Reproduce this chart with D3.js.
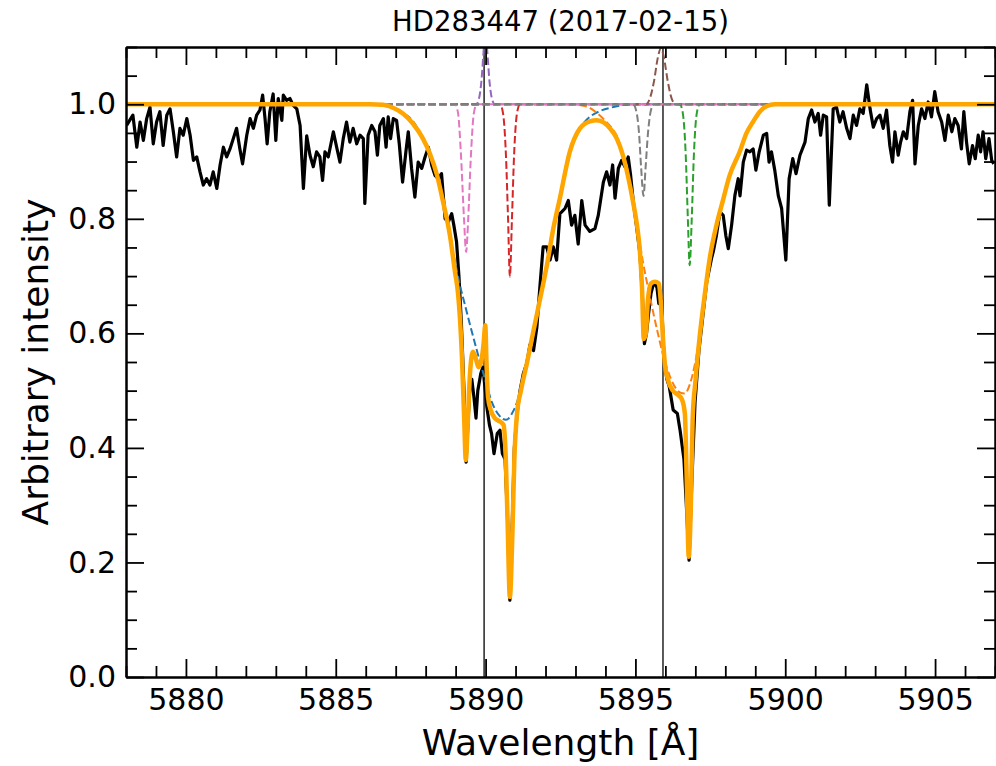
<!DOCTYPE html>
<html>
<head>
<meta charset="utf-8">
<script src="https://cdn.jsdelivr.net/npm/d3@7"></script>
<style>
  html, body { margin: 0; padding: 0; background: #ffffff; }
  svg text { font-family: "DejaVu Sans", sans-serif; fill: #000; }
</style>
</head>
<body>
<svg id="chart" width="996" height="766"></svg>
<script>
// ---- Axis limits and ticks ----
const xDomain = [5878, 5907];
const yDomain = [0, 1.1];
const xTicks = [5880, 5885, 5890, 5895, 5900, 5905];
const yTicks = [0.0, 0.2, 0.4, 0.6, 0.8, 1.0];
const restLines = [5889.95, 5895.92];   // Na I D2, D1

// ---- Observed spectrum (normalised) ----
const obsWave = [5878.02,5878.23,5878.36,5878.47,5878.58,5878.69,5878.80,5878.91,5879.02,5879.13,5879.24,5879.36,5879.47,5879.58,5879.69,5879.80,5879.91,5880.03,5880.14,5880.25,5880.36,5880.47,5880.58,5880.69,5880.80,5880.91,5881.03,5881.14,5881.25,5881.36,5881.47,5881.58,5881.69,5881.80,5881.89,5882.03,5882.14,5882.25,5882.36,5882.47,5882.56,5882.64,5882.71,5882.80,5882.91,5883.00,5883.08,5883.20,5883.25,5883.36,5883.47,5883.58,5883.70,5883.81,5883.92,5884.03,5884.14,5884.25,5884.36,5884.47,5884.56,5884.64,5884.75,5884.92,5885.03,5885.14,5885.25,5885.36,5885.47,5885.58,5885.70,5885.81,5885.92,5885.97,5886.08,5886.20,5886.31,5886.39,5886.47,5886.59,5886.68,5886.75,5886.83,5886.92,5887.03,5887.12,5887.23,5887.34,5887.42,5887.53,5887.64,5887.75,5887.87,5887.98,5888.09,5888.20,5888.31,5888.42,5888.53,5888.65,5888.76,5888.87,5888.94,5889.03,5889.11,5889.19,5889.28,5889.35,5889.41,5889.48,5889.54,5889.61,5889.68,5889.74,5889.84,5889.91,5889.99,5890.04,5890.13,5890.20,5890.28,5890.39,5890.48,5890.56,5890.65,5890.73,5890.81,5890.88,5890.96,5891.05,5891.15,5891.26,5891.38,5891.48,5891.60,5891.71,5891.81,5891.92,5892.04,5892.15,5892.26,5892.37,5892.48,5892.54,5892.65,5892.76,5892.87,5892.98,5893.09,5893.21,5893.32,5893.48,5893.65,5893.76,5893.93,5894.04,5894.15,5894.24,5894.32,5894.43,5894.54,5894.65,5894.76,5894.84,5894.93,5895.03,5895.15,5895.23,5895.30,5895.37,5895.43,5895.52,5895.62,5895.72,5895.78,5895.87,5895.95,5896.05,5896.13,5896.26,5896.40,5896.49,5896.62,5896.70,5896.79,5896.89,5896.99,5897.12,5897.25,5897.38,5897.54,5897.60,5897.70,5897.82,5897.93,5898.02,5898.10,5898.21,5898.32,5898.43,5898.49,5898.60,5898.71,5898.82,5898.93,5899.02,5899.13,5899.27,5899.38,5899.46,5899.54,5899.65,5899.77,5899.88,5900.02,5900.13,5900.25,5900.36,5900.49,5900.66,5900.77,5900.88,5900.99,5901.10,5901.18,5901.27,5901.38,5901.47,5901.60,5901.71,5901.82,5901.93,5902.05,5902.16,5902.27,5902.38,5902.49,5902.60,5902.72,5902.83,5902.94,5903.05,5903.16,5903.27,5903.38,5903.49,5903.58,5903.66,5903.77,5903.85,5903.94,5904.05,5904.16,5904.25,5904.33,5904.44,5904.55,5904.66,5904.77,5904.88,5904.99,5905.10,5905.22,5905.33,5905.44,5905.56,5905.66,5905.77,5905.88,5905.96,5906.05,5906.14,5906.25,5906.34,5906.44,5906.52,5906.60,5906.69,5906.80,5906.89,5906.96];
const obsFlux = [0.963,0.981,0.925,0.969,0.937,0.975,0.995,0.931,0.969,0.987,0.928,0.981,0.992,0.952,0.908,0.958,0.946,0.975,0.946,0.902,0.908,0.882,0.859,0.870,0.859,0.882,0.853,0.894,0.925,0.908,0.922,0.940,0.958,0.922,0.896,0.946,0.975,0.958,0.981,0.990,1.016,0.975,0.931,0.987,1.018,0.937,1.010,0.972,1.016,1.007,1.010,0.998,0.992,0.963,0.853,0.945,0.911,0.891,0.917,0.908,0.867,0.917,0.908,0.952,0.925,0.899,0.940,0.969,0.934,0.958,0.931,0.946,0.940,0.827,0.946,0.963,0.952,0.911,0.963,0.975,0.925,0.978,0.940,0.975,0.972,0.931,0.864,0.917,0.952,0.888,0.838,0.899,0.888,0.908,0.925,0.894,0.876,0.870,0.879,0.800,0.795,0.809,0.789,0.760,0.700,0.620,0.500,0.375,0.440,0.510,0.520,0.489,0.452,0.500,0.530,0.541,0.500,0.472,0.440,0.425,0.390,0.425,0.431,0.390,0.380,0.280,0.134,0.250,0.400,0.460,0.500,0.530,0.548,0.580,0.570,0.610,0.680,0.751,0.751,0.728,0.751,0.728,0.809,0.812,0.818,0.832,0.789,0.806,0.756,0.832,0.789,0.778,0.783,0.806,0.864,0.882,0.859,0.894,0.836,0.888,0.902,0.891,0.908,0.876,0.830,0.790,0.740,0.670,0.582,0.600,0.630,0.670,0.690,0.680,0.652,0.660,0.560,0.520,0.507,0.466,0.460,0.431,0.380,0.300,0.204,0.350,0.480,0.570,0.630,0.690,0.731,0.743,0.770,0.812,0.806,0.770,0.748,0.789,0.841,0.870,0.840,0.899,0.920,0.917,0.922,0.885,0.917,0.946,0.949,0.899,0.917,0.885,0.840,0.818,0.728,0.870,0.905,0.879,0.911,0.934,0.975,0.990,0.969,0.984,0.946,0.981,0.978,0.824,0.992,0.995,0.969,0.987,0.958,0.940,0.981,0.963,0.992,0.984,1.034,0.992,0.960,0.975,0.981,0.958,0.990,0.928,0.899,0.952,0.911,0.934,0.952,0.940,0.987,1.007,0.896,0.963,0.992,0.975,1.004,0.978,1.022,0.987,0.969,0.937,0.981,0.952,0.975,0.963,0.922,0.987,0.934,0.896,0.928,0.905,0.946,0.917,0.952,0.905,0.940,0.902,0.896];

// ---- Total model fit ----
const fitWave = [5878.00,5886.14,5886.58,5886.91,5887.24,5887.58,5887.91,5888.14,5888.38,5888.58,5888.81,5888.98,5889.08,5889.14,5889.21,5889.28,5889.34,5889.41,5889.48,5889.58,5889.68,5889.76,5889.85,5889.93,5889.99,5890.03,5890.08,5890.18,5890.28,5890.41,5890.51,5890.60,5890.66,5890.73,5890.81,5890.90,5890.96,5891.05,5891.18,5891.38,5891.58,5891.81,5892.05,5892.25,5892.48,5892.81,5893.15,5893.48,5893.71,5893.95,5894.15,5894.38,5894.58,5894.75,5894.92,5895.05,5895.15,5895.22,5895.28,5895.35,5895.42,5895.52,5895.65,5895.78,5895.84,5895.91,5895.98,5896.08,5896.25,5896.41,5896.55,5896.65,5896.71,5896.78,5896.85,5896.91,5897.01,5897.15,5897.32,5897.48,5897.71,5897.91,5898.14,5898.48,5898.71,5898.92,5899.15,5899.39,5899.65,5907.00];
const fitFlux = [1.000,1.000,0.999,0.994,0.984,0.966,0.940,0.914,0.876,0.830,0.771,0.707,0.670,0.630,0.560,0.460,0.379,0.450,0.530,0.568,0.555,0.541,0.550,0.580,0.614,0.550,0.489,0.465,0.454,0.448,0.445,0.440,0.400,0.280,0.140,0.260,0.380,0.460,0.500,0.548,0.600,0.658,0.720,0.780,0.836,0.917,0.958,0.970,0.972,0.968,0.958,0.940,0.911,0.875,0.830,0.790,0.743,0.680,0.590,0.600,0.660,0.687,0.690,0.687,0.660,0.600,0.548,0.520,0.500,0.493,0.485,0.460,0.350,0.210,0.300,0.450,0.520,0.597,0.670,0.731,0.790,0.830,0.875,0.917,0.950,0.969,0.987,0.997,1.000,1.000];

// ---- Individual fit components ----
// broad D2 absorption
const compAWave = [5878.00,5885.81,5886.64,5887.14,5887.58,5887.91,5888.14,5888.38,5888.58,5888.81,5888.98,5889.14,5889.31,5889.48,5889.71,5889.98,5890.21,5890.48,5890.68,5890.88,5891.08,5891.31,5891.58,5891.81,5892.05,5892.25,5892.48,5892.81,5893.15,5893.48,5893.81,5894.25,5894.65,5895.15,5907.00];
const compAFlux = [1.000,1.000,0.997,0.988,0.970,0.940,0.914,0.876,0.830,0.770,0.725,0.685,0.650,0.615,0.570,0.520,0.480,0.455,0.449,0.460,0.485,0.540,0.600,0.660,0.720,0.780,0.836,0.917,0.958,0.978,0.988,0.995,0.999,1.000,1.000];
// broad D1 absorption
const compBWave = [5878.00,5892.81,5893.32,5893.71,5893.98,5894.22,5894.42,5894.58,5894.75,5894.92,5895.08,5895.25,5895.42,5895.58,5895.75,5895.91,5896.08,5896.28,5896.48,5896.65,5896.81,5896.98,5897.15,5897.32,5897.48,5897.71,5897.91,5898.14,5898.48,5898.71,5898.92,5899.15,5899.39,5899.75,5907.00];
const compBFlux = [1.000,1.000,0.997,0.985,0.972,0.958,0.940,0.912,0.876,0.832,0.780,0.725,0.680,0.640,0.600,0.565,0.535,0.510,0.497,0.495,0.510,0.545,0.597,0.670,0.731,0.790,0.830,0.875,0.917,0.950,0.969,0.987,0.997,1.000,1.000];
// narrow D1 absorption (red side)
const compCWave = [5878.00,5896.48,5896.58,5896.68,5896.75,5896.81,5896.88,5896.95,5897.05,5897.15,5907.00];
const compCFlux = [1.000,1.000,0.985,0.910,0.800,0.719,0.800,0.910,0.985,1.000,1.000];
// narrow D2 absorption (red side)
const compDWave = [5878.00,5890.48,5890.58,5890.68,5890.75,5890.81,5890.88,5890.95,5891.05,5891.15,5907.00];
const compDFlux = [1.000,1.000,0.985,0.910,0.800,0.699,0.800,0.910,0.985,1.000,1.000];
// D2 emission
const compEWave = [5878.00,5889.68,5889.78,5889.86,5889.93,5889.99,5890.06,5890.13,5890.21,5890.31,5907.00];
const compEFlux = [1.000,1.000,1.010,1.040,1.090,1.130,1.090,1.040,1.010,1.000,1.000];
// D1 emission
const compFWave = [5878.00,5895.35,5895.48,5895.62,5895.75,5895.85,5895.95,5896.08,5896.21,5896.35,5907.00];
const compFFlux = [1.000,1.000,1.010,1.040,1.082,1.098,1.082,1.040,1.010,1.000,1.000];
// narrow D2 absorption (blue side)
const compGWave = [5878.00,5888.98,5889.08,5889.18,5889.28,5889.35,5889.42,5889.51,5889.61,5889.71,5907.00];
const compGFlux = [1.000,1.000,0.985,0.910,0.800,0.742,0.800,0.910,0.985,1.000,1.000];
// narrow D1 absorption (blue side)
const compHWave = [5878.00,5894.92,5895.02,5895.12,5895.19,5895.27,5895.34,5895.42,5895.52,5895.62,5907.00];
const compHFlux = [1.000,1.000,0.990,0.950,0.890,0.840,0.890,0.950,0.990,1.000,1.000];

const components = [
  {wave: compAWave, flux: compAFlux, color: "#1f77b4"},
  {wave: compBWave, flux: compBFlux, color: "#ff7f0e"},
  {wave: compCWave, flux: compCFlux, color: "#2ca02c"},
  {wave: compDWave, flux: compDFlux, color: "#d62728"},
  {wave: compEWave, flux: compEFlux, color: "#9467bd"},
  {wave: compFWave, flux: compFFlux, color: "#8c564b"},
  {wave: compGWave, flux: compGFlux, color: "#e377c2"},
  {wave: compHWave, flux: compHFlux, color: "#7f7f7f"}
];

// ---- Layout ----
const plot = {left: 126, right: 995, top: 47, bottom: 677};
const svg = d3.select("#chart");

const x = d3.scaleLinear().domain(xDomain).range([plot.left, plot.right]);
const y = d3.scaleLinear().domain(yDomain).range([plot.bottom, plot.top]);

svg.append("defs").append("clipPath").attr("id", "plotClip")
  .append("rect")
  .attr("x", plot.left).attr("y", plot.top)
  .attr("width", plot.right - plot.left).attr("height", plot.bottom - plot.top);

const layer = svg.append("g").attr("clip-path", "url(#plotClip)");

const zip = (w, f) => w.map((d, i) => [d, f[i]]);

// rest wavelengths
layer.selectAll("line.rest").data(restLines).enter().append("line")
  .attr("class", "rest")
  .attr("x1", d => x(d)).attr("x2", d => x(d))
  .attr("y1", plot.top).attr("y2", plot.bottom)
  .attr("stroke", "#000").attr("stroke-width", 1.3);

// observed spectrum
const obsLine = d3.line().x(d => x(d[0])).y(d => y(d[1]));
layer.append("path")
  .datum(zip(obsWave, obsFlux))
  .attr("d", obsLine)
  .attr("fill", "none").attr("stroke", "#000")
  .attr("stroke-width", 3.2).attr("stroke-linejoin", "round");

// components (dashed)
const smoothLine = d3.line().x(d => x(d[0])).y(d => y(d[1])).curve(d3.curveMonotoneX);
components.forEach(c => {
  layer.append("path")
    .datum(zip(c.wave, c.flux))
    .attr("d", smoothLine)
    .attr("fill", "none").attr("stroke", c.color)
    .attr("stroke-width", 2)
    .attr("stroke-dasharray", "7.5,3.3");
});

// total fit
layer.append("path")
  .datum(zip(fitWave, fitFlux))
  .attr("d", smoothLine)
  .attr("fill", "none").attr("stroke", "#ffa500")
  .attr("stroke-width", 4.5).attr("stroke-linejoin", "round");

// ---- Axes ----
const xMinor = d3.range(xDomain[0], xDomain[1] + 0.001, 1).filter(v => !xTicks.includes(v));
const yMinor = d3.range(0, yDomain[1] + 0.001, 0.05).map(v => +v.toFixed(2))
  .filter(v => !yTicks.some(t => Math.abs(t - v) < 1e-6));

const MAJ = 18, MIN = 11;

function styleAxis(g, fontSize) {
  g.attr("font-family", "DejaVu Sans, sans-serif").attr("font-size", fontSize);
  g.select(".domain").attr("stroke", "#000").attr("stroke-width", 2);
  g.selectAll(".tick line").attr("stroke", "#000").attr("stroke-width", 1.8);
  g.selectAll(".tick text").attr("fill", "#000");
}

// bottom
svg.append("g").attr("transform", `translate(0,${plot.bottom})`)
  .call(d3.axisBottom(x).tickValues(xMinor).tickSizeInner(-MIN).tickSizeOuter(0).tickFormat(""))
  .call(g => styleAxis(g, 30));
svg.append("g").attr("transform", `translate(0,${plot.bottom})`)
  .call(d3.axisBottom(x).tickValues(xTicks).tickSizeInner(-MAJ).tickSizeOuter(0).tickPadding(12).tickFormat(d3.format("d")))
  .call(g => styleAxis(g, 30));
// top
svg.append("g").attr("transform", `translate(0,${plot.top})`)
  .call(d3.axisTop(x).tickValues(xMinor).tickSizeInner(-MIN).tickSizeOuter(0).tickFormat(""))
  .call(g => styleAxis(g, 30));
svg.append("g").attr("transform", `translate(0,${plot.top})`)
  .call(d3.axisTop(x).tickValues(xTicks).tickSizeInner(-MAJ).tickSizeOuter(0).tickFormat(""))
  .call(g => styleAxis(g, 30));
// left
svg.append("g").attr("transform", `translate(${plot.left},0)`)
  .call(d3.axisLeft(y).tickValues(yMinor).tickSizeInner(-MIN).tickSizeOuter(0).tickFormat(""))
  .call(g => styleAxis(g, 30));
svg.append("g").attr("transform", `translate(${plot.left},0)`)
  .call(d3.axisLeft(y).tickValues(yTicks).tickSizeInner(-MAJ).tickSizeOuter(0).tickPadding(10).tickFormat(d3.format(".1f")))
  .call(g => styleAxis(g, 30));
// right
svg.append("g").attr("transform", `translate(${plot.right},0)`)
  .call(d3.axisRight(y).tickValues(yMinor).tickSizeInner(-MIN).tickSizeOuter(0).tickFormat(""))
  .call(g => styleAxis(g, 30));
svg.append("g").attr("transform", `translate(${plot.right},0)`)
  .call(d3.axisRight(y).tickValues(yTicks).tickSizeInner(-MAJ).tickSizeOuter(0).tickFormat(""))
  .call(g => styleAxis(g, 30));

// ---- Labels ----
svg.append("text")
  .attr("x", (plot.left + plot.right) / 2).attr("y", 31)
  .attr("text-anchor", "middle").attr("font-size", 27.5)
  .text("HD283447 (2017-02-15)");

svg.append("text")
  .attr("x", (plot.left + plot.right) / 2).attr("y", 755)
  .attr("text-anchor", "middle").attr("font-size", 36)
  .text("Wavelength [Å]");

svg.append("text")
  .attr("transform", `translate(48,${(plot.top + plot.bottom) / 2}) rotate(-90)`)
  .attr("text-anchor", "middle").attr("font-size", 36)
  .text("Arbitrary intensity");
</script>
</body>
</html>
